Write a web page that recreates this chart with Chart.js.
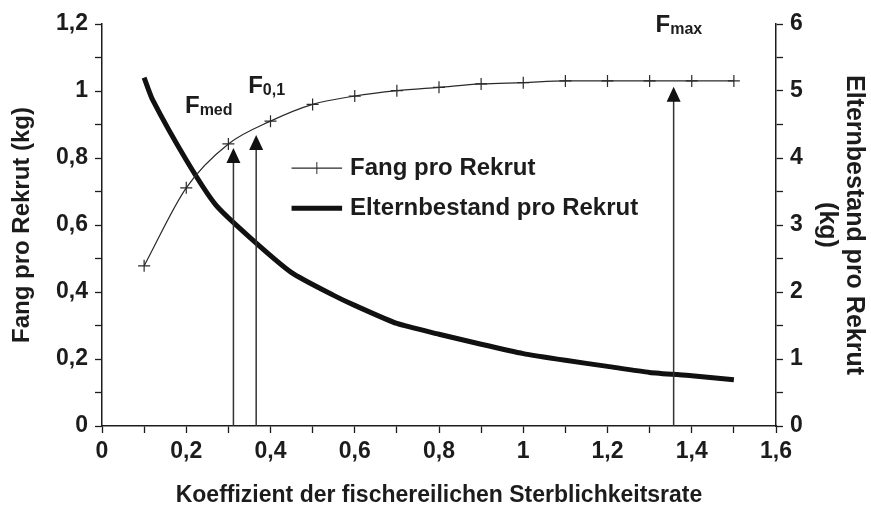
<!DOCTYPE html>
<html>
<head>
<meta charset="utf-8">
<script src="https://cdn.jsdelivr.net/npm/chart.js@4.4.1/dist/chart.umd.min.js"></script>
<style>
  html, body { margin: 0; padding: 0; background: #fff; }
  #wrap { width: 871px; height: 512px; position: relative; }
</style>
</head>
<body>
<div id="wrap"><canvas id="ypr"></canvas></div>
<script>
// Fang pro Rekrut (left axis, kg)
const fangX = [0.1, 0.2, 0.3, 0.4, 0.5, 0.6, 0.7, 0.8, 0.9, 1.0, 1.1, 1.2, 1.3, 1.4, 1.5];
const fangY = [0.478, 0.711, 0.842, 0.910, 0.960, 0.985, 1.001, 1.011, 1.021, 1.025, 1.030, 1.030, 1.030, 1.030, 1.030];

// Elternbestand pro Rekrut (right axis, kg)
const eltX = [0.1, 0.12, 0.2, 0.27, 0.35, 0.45, 0.55, 0.6, 0.7, 0.8, 0.9, 1.0, 1.1, 1.2, 1.3, 1.4, 1.5];
const eltY = [5.20, 4.87, 3.97, 3.30, 2.82, 2.29, 1.95, 1.80, 1.53, 1.37, 1.22, 1.08, 0.98, 0.89, 0.80, 0.75, 0.69];

// reference points (arrows)
const refNames = ['med', '0,1', 'max'];
const refX = [0.312, 0.366, 1.357];
const refTip = [0.83, 0.869, 1.013];
const refLabelX = [0.197, 0.347, 1.314];
const refLabelY = [0.934, 0.994, 1.177];

const xTitle = 'Koeffizient der fischereilichen Sterblichkeitsrate';
const yLeftTitle = 'Fang pro Rekrut (kg)';
const yRightTitle = ['Elternbestand pro Rekrut', '(kg)'];

const ink = '#1c1c1c';
const fontFam = '"Liberation Sans", Arial, sans-serif';

function comma(v) {
    return String(Math.round(v * 10) / 10).replace('.', ',');
}

const refPlugin = {
    id: 'refArrows',
    afterDatasetsDraw(chart) {
        const {ctx, scales: {x, y}} = chart;
        ctx.save();
        for (let i = 0; i < refX.length; i++) {
            const px = x.getPixelForValue(refX[i]);
            const tip = y.getPixelForValue(refTip[i]);
            const base = y.getPixelForValue(0);
            ctx.strokeStyle = '#333';
            ctx.lineWidth = 1.5;
            ctx.beginPath();
            ctx.moveTo(px, base);
            ctx.lineTo(px, tip + 14);
            ctx.stroke();
            ctx.fillStyle = '#111';
            ctx.beginPath();
            ctx.moveTo(px, tip);
            ctx.lineTo(px - 7, tip + 15);
            ctx.lineTo(px + 7, tip + 15);
            ctx.closePath();
            ctx.fill();

            // F label with subscript
            const lx = x.getPixelForValue(refLabelX[i]);
            const ly = y.getPixelForValue(refLabelY[i]);
            ctx.fillStyle = ink;
            ctx.textBaseline = 'alphabetic';
            ctx.textAlign = 'left';
            ctx.font = 'bold 24px ' + fontFam;
            ctx.fillText('F', lx, ly);
            const w = ctx.measureText('F').width;
            ctx.font = 'bold 16px ' + fontFam;
            ctx.fillText(refNames[i], lx + w, ly + 2);
        }

        // legend inside the plot
        const lx0 = x.getPixelForValue(0.45);
        const lx1 = x.getPixelForValue(0.57);
        const rows = [y.getPixelForValue(0.77), y.getPixelForValue(0.65)];
        chart.data.datasets.forEach((ds, i) => {
            const ry = rows[i];
            ctx.strokeStyle = ds.borderColor;
            ctx.lineWidth = ds.borderWidth;
            ctx.beginPath();
            ctx.moveTo(lx0, ry);
            ctx.lineTo(lx1, ry);
            ctx.stroke();
            if (ds.pointRadius > 0) {
                const mx = (lx0 + lx1) / 2;
                ctx.lineWidth = 1;
                ctx.beginPath();
                ctx.moveTo(mx, ry - 6);
                ctx.lineTo(mx, ry + 6);
                ctx.stroke();
            }
            ctx.fillStyle = ink;
            ctx.font = 'bold 24px ' + fontFam;
            ctx.textBaseline = 'middle';
            ctx.fillText(ds.label, lx1 + 8, ry);
        });
        ctx.restore();
    }
};

const tickFont = {family: fontFam, size: 23, weight: 'bold'};

new Chart(document.getElementById('ypr'), {
    type: 'line',
    data: {
        datasets: [{
            label: 'Fang pro Rekrut',
            data: fangX.map((v, i) => ({x: v, y: fangY[i]})),
            borderColor: '#2a2a2a',
            borderWidth: 1.2,
            pointStyle: 'cross',
            pointRadius: 6,
            pointBorderWidth: 1.2,
            pointBorderColor: '#2a2a2a',
            cubicInterpolationMode: 'monotone',
            yAxisID: 'y'
        }, {
            label: 'Elternbestand pro Rekrut',
            data: eltX.map((v, i) => ({x: v, y: eltY[i]})),
            borderColor: '#111',
            borderWidth: 5,
            pointRadius: 0,
            tension: 0.2,
            yAxisID: 'y2'
        }]
    },
    options: {
        responsive: true,
        maintainAspectRatio: false,
        animation: false,
        layout: {padding: {top: 24, left: 0, right: 0, bottom: 0}},
        plugins: {
            legend: {display: false},
            tooltip: {enabled: false}
        },
        scales: {
            x: {
                type: 'linear',
                min: 0, max: 1.6,
                grid: {drawOnChartArea: false, tickLength: 7, color: ink, tickWidth: 1.3},
                border: {color: ink, width: 1.5},
                ticks: {
                    stepSize: 0.1, autoSkip: false, maxRotation: 0, padding: 5,
                    color: ink, font: tickFont,
                    callback: v => Math.round(v * 10) % 2 === 0 ? comma(v) : ''
                },
                title: {display: true, text: xTitle, color: ink,
                    font: {family: fontFam, size: 23, weight: 'bold', lineHeight: 1.2},
                    padding: {top: 0, bottom: 3}},
                afterFit: s => { s.height = 86; }
            },
            y: {
                position: 'left',
                min: 0, max: 1.2,
                grid: {drawOnChartArea: false, tickLength: 7, color: ink, tickWidth: 1.3},
                border: {color: ink, width: 1.5},
                ticks: {
                    stepSize: 0.1, autoSkip: false, padding: 7,
                    color: ink, font: tickFont,
                    callback: v => Math.round(v * 10) % 2 === 0 ? comma(v) : ''
                },
                title: {display: true, text: yLeftTitle, color: ink,
                    font: {family: fontFam, size: 24, weight: 'bold', lineHeight: 1.2},
                    padding: {top: 8, bottom: 0}},
                afterFit: s => { s.width = 102; }
            },
            y2: {
                position: 'right',
                min: 0, max: 6,
                grid: {drawOnChartArea: false, tickLength: 7, color: ink, tickWidth: 1.3},
                border: {color: ink, width: 1.5},
                ticks: {
                    stepSize: 0.5, autoSkip: false, padding: 7,
                    color: ink, font: tickFont,
                    callback: v => Number.isInteger(v) ? String(v) : ''
                },
                title: {display: true, text: yRightTitle, color: ink,
                    font: {family: fontFam, size: 25, weight: 'bold', lineHeight: 1.1},
                    padding: {top: 3, bottom: 0}},
                afterFit: s => { s.width = 95; }
            }
        }
    },
    plugins: [refPlugin]
});
</script>
</body>
</html>
